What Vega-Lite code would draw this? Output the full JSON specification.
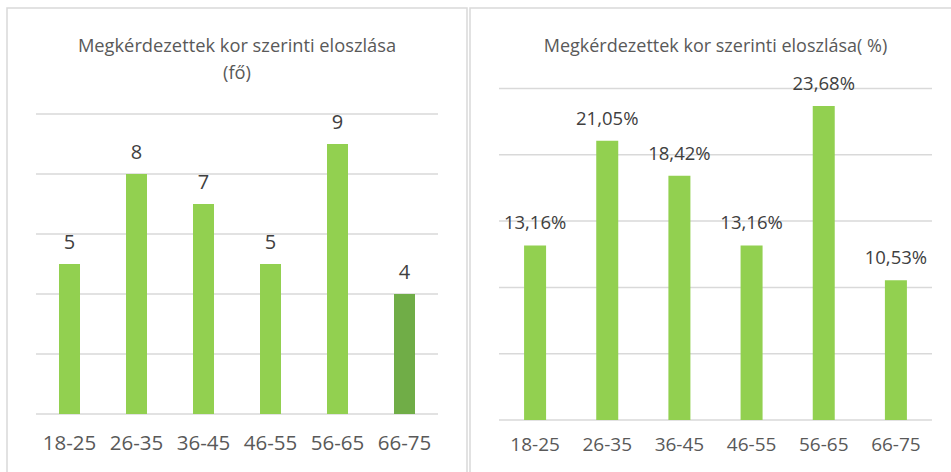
{
  "$schema": "https://vega.github.io/schema/vega-lite/v6.json",
  "background": "white",
  "padding": {"left": 6, "top": 7, "right": 0, "bottom": 0},
  "spacing": 1,
  "config": {
    "view": {"stroke": "#D9D9D9", "strokeWidth": 1.5},
    "locale": {"number": {"decimal": ",", "thousands": " ", "grouping": [3], "currency": ["", " Ft"]}},
    "text": {"font": "Open Sans"}
  },
  "datasets": {
    "ages": [
      {"age": "18-25", "i": 0, "n": 5, "pct": 0.1316},
      {"age": "26-35", "i": 1, "n": 8, "pct": 0.2105},
      {"age": "36-45", "i": 2, "n": 7, "pct": 0.1842},
      {"age": "46-55", "i": 3, "n": 5, "pct": 0.1316},
      {"age": "56-65", "i": 4, "n": 9, "pct": 0.2368},
      {"age": "66-75", "i": 5, "n": 4, "pct": 0.1053}
    ]
  },
  "hconcat": [
    {
      "width": 460,
      "height": 465,
      "data": {"name": "ages"},
      "layer": [
        {
          "data": {"values": [{"g": 0}, {"g": 2}, {"g": 4}, {"g": 6}, {"g": 8}, {"g": 10}]},
          "mark": {"type": "rule", "color": "#D9D9D9", "strokeWidth": 1.5},
          "encoding": {
            "x": {"datum": -0.5, "type": "quantitative", "scale": {"domain": [-0.9328, 5.9328], "nice": false, "zero": false, "padding": 0}, "axis": null},
            "x2": {"datum": 5.5},
            "y": {"field": "g", "type": "quantitative", "scale": {"domain": [-1.9667, 13.5333], "nice": false, "zero": false, "padding": 0}, "axis": null}
          }
        },
        {
          "mark": {"type": "bar", "size": 21},
          "encoding": {
            "x": {"field": "i", "type": "quantitative", "axis": null},
            "y": {"field": "n", "type": "quantitative", "axis": null},
            "y2": {"datum": 0},
            "color": {"condition": {"test": "datum.age === '66-75'", "value": "#70AD47"}, "value": "#92D050"}
          }
        },
        {
          "mark": {"type": "text", "align": "center", "baseline": "alphabetic", "dy": -15, "fontSize": 20, "color": "#404040"},
          "encoding": {
            "x": {"field": "i", "type": "quantitative"},
            "y": {"field": "n", "type": "quantitative"},
            "text": {"field": "n", "type": "quantitative"}
          }
        },
        {
          "mark": {"type": "text", "align": "center", "baseline": "alphabetic", "fontSize": 20.5, "color": "#595959"},
          "encoding": {
            "x": {"field": "i", "type": "quantitative"},
            "y": {"datum": -1.2, "type": "quantitative"},
            "text": {"field": "age", "type": "nominal"}
          }
        },
        {
          "data": {"values": [{"t": "Megkérdezettek kor szerinti eloszlása", "lx": 2.5, "ly": 12.067}, {"t": "(fő)", "lx": 2.5, "ly": 11.167}]},
          "mark": {"type": "text", "align": "center", "baseline": "alphabetic", "fontSize": 18.3, "color": "#595959"},
          "encoding": {
            "x": {"field": "lx", "type": "quantitative"},
            "y": {"field": "ly", "type": "quantitative"},
            "text": {"field": "t", "type": "nominal"}
          }
        }
      ]
    },
    {
      "width": 484,
      "height": 465,
      "data": {"name": "ages"},
      "layer": [
        {
          "data": {"values": [{"g": 0}, {"g": 0.05}, {"g": 0.1}, {"g": 0.15}, {"g": 0.2}, {"g": 0.25}]},
          "mark": {"type": "rule", "color": "#D9D9D9", "strokeWidth": 1.5},
          "encoding": {
            "x": {"datum": -0.5, "type": "quantitative", "scale": {"domain": [-0.9018, 5.805], "nice": false, "zero": false, "padding": 0}, "axis": null},
            "x2": {"datum": 5.5},
            "y": {"field": "g", "type": "quantitative", "scale": {"domain": [-0.03997, 0.3107], "nice": false, "zero": false, "padding": 0}, "axis": null}
          }
        },
        {
          "mark": {"type": "bar", "size": 22, "color": "#92D050"},
          "encoding": {
            "x": {"field": "i", "type": "quantitative", "axis": null},
            "y": {"field": "pct", "type": "quantitative", "axis": null},
            "y2": {"datum": 0}
          }
        },
        {
          "mark": {"type": "text", "align": "center", "baseline": "alphabetic", "dy": -16, "fontSize": 18.5, "color": "#404040"},
          "encoding": {
            "x": {"field": "i", "type": "quantitative"},
            "y": {"field": "pct", "type": "quantitative"},
            "text": {"field": "pct", "type": "quantitative", "format": ".2%"}
          }
        },
        {
          "mark": {"type": "text", "align": "center", "baseline": "alphabetic", "fontSize": 19, "color": "#595959"},
          "encoding": {
            "x": {"field": "i", "type": "quantitative"},
            "y": {"datum": -0.02338, "type": "quantitative"},
            "text": {"field": "age", "type": "nominal"}
          }
        },
        {
          "data": {"values": [{"t": "Megkérdezettek kor szerinti eloszlása( %)", "lx": 2.5, "ly": 0.2775}]},
          "mark": {"type": "text", "align": "center", "baseline": "alphabetic", "fontSize": 18, "color": "#595959"},
          "encoding": {
            "x": {"field": "lx", "type": "quantitative"},
            "y": {"field": "ly", "type": "quantitative"},
            "text": {"field": "t", "type": "nominal"}
          }
        }
      ]
    }
  ]
}
